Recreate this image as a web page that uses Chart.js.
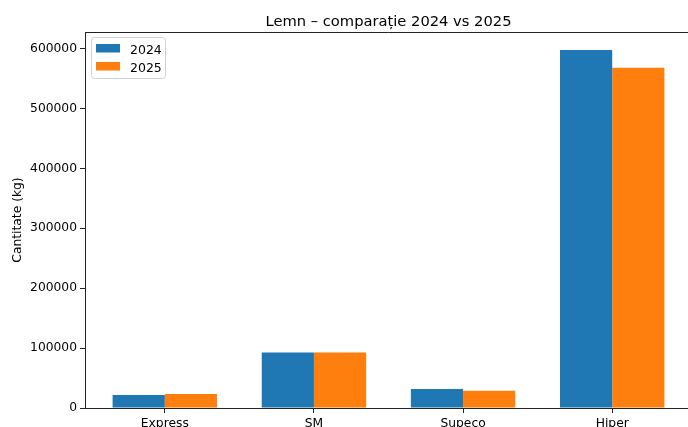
<!DOCTYPE html>
<html lang="ro">
<head>
  <meta charset="UTF-8">
  <title>Lemn – comparație 2024 vs 2025</title>
  <style>
    html, body { margin: 0; padding: 0; background: #fff; overflow: hidden; }
    #wrap { width: 688px; height: 427px; overflow: hidden; position: relative; }
    canvas { position: absolute; left: 0; top: 0; }
  </style>
</head>
<body>
  <div id="wrap">
    <canvas id="chart" width="700" height="440"></canvas>
  </div>

  <script src="https://cdn.jsdelivr.net/npm/chart.js"></script>
  <script>
    // data
    const categories = ['Express', 'SM', 'Supeco', 'Hiper'];
    const values2024 = [21800, 92800, 31800, 597700];
    const values2025 = [23500, 92800, 29000, 568100];
    const seriesLabels = ['2024', '2025'];
    const yTicks = [0, 100000, 200000, 300000, 400000, 500000, 600000];

    const FONT = "'DejaVu Sans', sans-serif";

    // top + right spine (matplotlib style box)
    const frameBox = {
      id: 'frameBox',
      afterDraw(chart) {
        const a = chart.chartArea, ctx = chart.ctx;
        ctx.save();
        ctx.strokeStyle = '#222';
        ctx.lineWidth = 1;
        ctx.beginPath();
        ctx.moveTo(a.left, a.top + 0.5);
        ctx.lineTo(a.right + 0.5, a.top + 0.5);
        ctx.lineTo(a.right + 0.5, a.bottom);
        ctx.stroke();
        ctx.restore();
      }
    };

    // title centred over the axes
    const axesTitle = {
      id: 'axesTitle',
      afterDraw(chart) {
        const a = chart.chartArea, ctx = chart.ctx;
        ctx.save();
        ctx.font = '14.7px ' + FONT;
        ctx.fillStyle = '#000';
        ctx.textAlign = 'center';
        ctx.textBaseline = 'alphabetic';
        ctx.fillText('Lemn – comparație 2024 vs 2025', (a.left + a.right) / 2, 26);
        ctx.restore();
      }
    };

    // legend box in the upper left corner of the axes
    const boxLegend = {
      id: 'boxLegend',
      afterDraw(chart) {
        const a = chart.chartArea, ctx = chart.ctx;
        const x = a.left + 6.5, y = a.top + 5.5, w = 74, h = 41;
        ctx.save();
        ctx.fillStyle = 'rgba(255,255,255,0.8)';
        ctx.strokeStyle = '#d0d0d0';
        ctx.lineWidth = 1;
        ctx.beginPath();
        ctx.roundRect(x, y, w, h, 3);
        ctx.fill();
        ctx.stroke();
        ctx.font = '12.5px ' + FONT;
        ctx.textBaseline = 'alphabetic';
        ctx.textAlign = 'left';
        chart.data.datasets.forEach((ds, i) => {
          const ry = a.top + 12 + i * 18;
          ctx.fillStyle = ds.backgroundColor;
          ctx.fillRect(a.left + 11, ry, 24, 8.5);
          ctx.fillStyle = '#000';
          ctx.fillText(ds.label, a.left + 45, ry + 10);
        });
        ctx.restore();
      }
    };

    const ctx = document.getElementById('chart').getContext('2d');
    new Chart(ctx, {
      type: 'bar',
      data: {
        datasets: [
          {
            label: seriesLabels[0],
            data: categories.map((c, i) => ({ x: i, y: values2024[i] })),
            backgroundColor: '#1f77b4'
          },
          {
            label: seriesLabels[1],
            data: categories.map((c, i) => ({ x: i, y: values2025[i] })),
            backgroundColor: '#ff7f0e'
          }
        ]
      },
      options: {
        responsive: false,
        animation: false,
        layout: { padding: { left: 0, right: 8, top: 32, bottom: 0 } },
        datasets: { bar: { barPercentage: 1.0, categoryPercentage: 0.7 } },
        plugins: {
          legend: { display: false },
          title: { display: false },
          tooltip: { enabled: false }
        },
        scales: {
          x: {
            type: 'linear',
            offset: false,
            min: -0.535,
            max: 3.535,
            afterFit: (s) => { s.height = 32; },
            afterBuildTicks: (s) => { s.ticks = categories.map((c, i) => ({ value: i })); },
            grid: {
              offset: false,
              drawOnChartArea: false,
              drawTicks: true,
              tickLength: 5,
              tickColor: '#222'
            },
            border: { color: '#222', width: 1 },
            ticks: {
              autoSkip: false,
              maxRotation: 0,
              padding: 3,
              color: '#000',
              font: { family: FONT, size: 12.3 },
              callback: (v) => categories[v]
            }
          },
          y: {
            min: 0,
            max: 627600,
            afterFit: (s) => { s.width = 85; },
            afterBuildTicks: (s) => { s.ticks = yTicks.map(v => ({ value: v })); },
            grid: {
              drawOnChartArea: false,
              drawTicks: true,
              tickLength: 5,
              tickColor: '#222'
            },
            border: { color: '#222', width: 1 },
            ticks: {
              padding: 3,
              color: '#000',
              font: { family: FONT, size: 12.3 },
              callback: (v) => String(v)
            },
            title: {
              display: true,
              text: 'Cantitate (kg)',
              color: '#000',
              font: { family: FONT, size: 12.3 },
              padding: { top: 10, bottom: 0 }
            }
          }
        }
      },
      plugins: [frameBox, axesTitle, boxLegend]
    });
  </script>
</body>
</html>
